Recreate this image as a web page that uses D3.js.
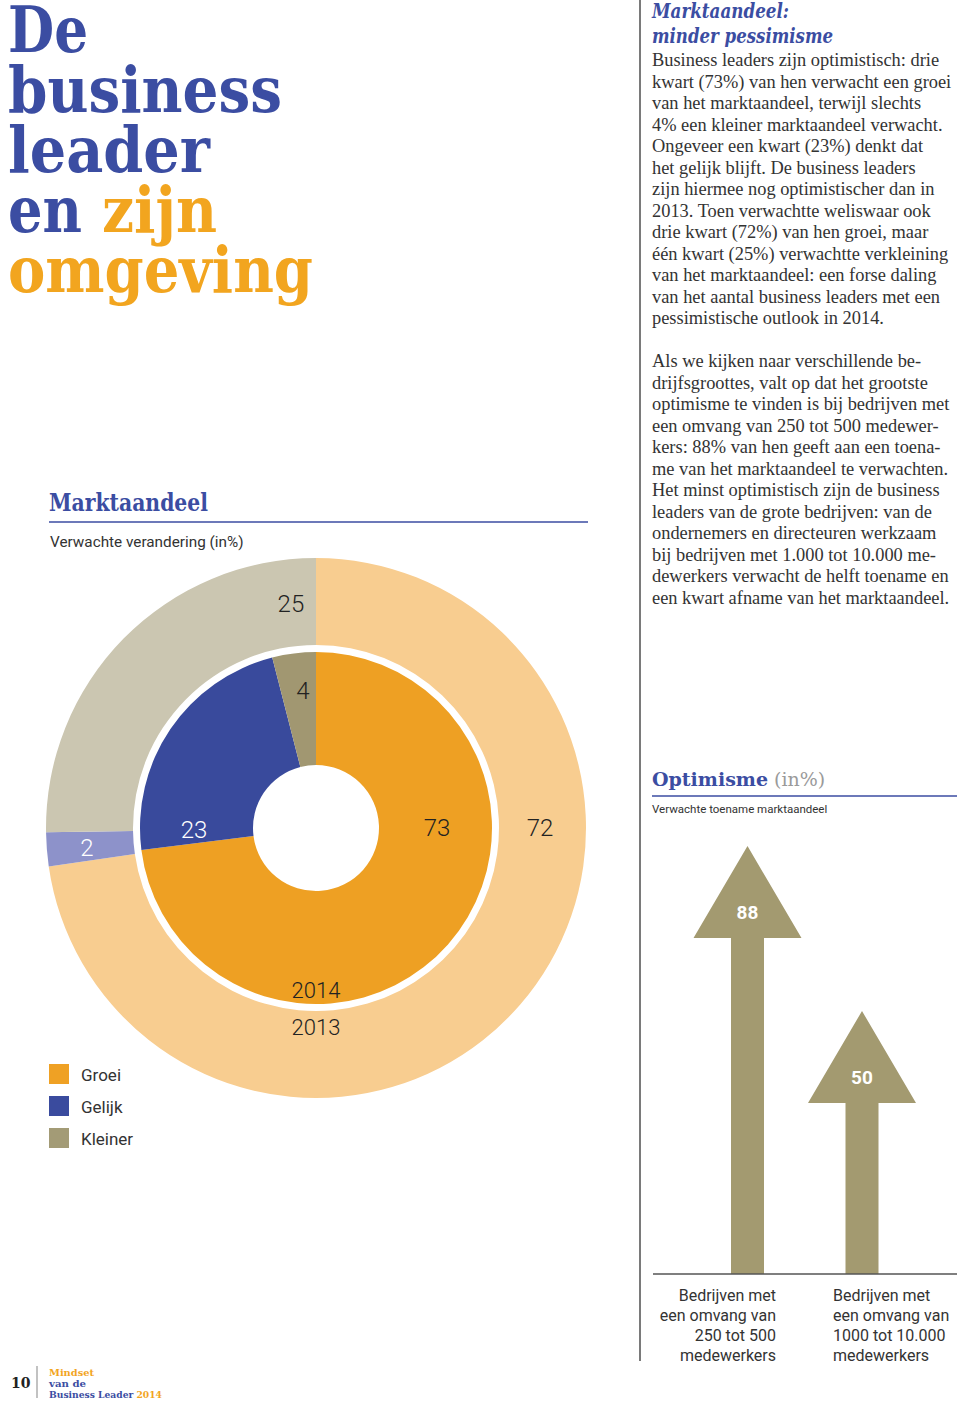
<!DOCTYPE html>
<html><head><meta charset="utf-8">
<script src="https://cdn.jsdelivr.net/npm/d3@7"></script>
<style>
html,body{margin:0;padding:0;background:#fff;}
svg{display:block;}
</style></head>
<body>
<script>
// ---------- DATA ----------
const categories = ["Groei", "Gelijk", "Kleiner"];
const values2014 = [73, 23, 4];
const values2013 = [72, 2, 25];
const yearLabels = ["2014", "2013"];

const optimismeLabels = [
  ["Bedrijven met", "een omvang van", "250 tot 500", "medewerkers"],
  ["Bedrijven met", "een omvang van", "1000 tot  10.000", "medewerkers"]
];
const optimismeValues = [88, 50];

const para1 = [
  "Business leaders zijn optimistisch: drie",
  "kwart (73%) van hen verwacht een groei",
  "van het marktaandeel, terwijl slechts",
  "4% een kleiner marktaandeel verwacht.",
  "Ongeveer een kwart (23%) denkt dat",
  "het gelijk blijft. De business leaders",
  "zijn hiermee nog optimistischer dan in",
  "2013. Toen verwachtte weliswaar ook",
  "drie kwart (72%) van hen groei, maar",
  "één kwart (25%) verwachtte verkleining",
  "van het marktaandeel: een forse daling",
  "van het aantal business leaders met een",
  "pessimistische outlook in 2014."
];
const para2 = [
  "Als we kijken naar verschillende be-",
  "drijfsgroottes, valt op dat het grootste",
  "optimisme te vinden is bij bedrijven met",
  "een omvang van 250 tot 500 medewer-",
  "kers: 88% van hen geeft aan een toena-",
  "me van het marktaandeel te verwachten.",
  "Het minst optimistisch zijn de business",
  "leaders van de grote bedrijven: van de",
  "ondernemers en directeuren werkzaam",
  "bij bedrijven met 1.000 tot 10.000 me-",
  "dewerkers verwacht de helft toename en",
  "een kwart afname van het marktaandeel."
];

// ---------- STYLE ----------
const BLUE = "#3B4DA2", ORANGE = "#F2A51F", TXT = "#333333";
const innerColors = ["#EEA023", "#394A9C", "#A19771"];
const outerColors = ["#F8CD90", "#8D92CA", "#CBC6B1"];
const legendColors = ["#EFA124", "#3A4B9E", "#A39B76"];
const ARROW = "#A39A70";
const SANS = "Roboto, 'Liberation Sans', Arial, sans-serif";
const SERIF = "'Liberation Serif', 'DejaVu Serif', serif";
const SLAB = "'DejaVu Serif', serif";

const svg = d3.select("body").append("svg").attr("width", 960).attr("height", 1402);

// ---------- BIG TITLE ----------
const titleLines = [
  {t: "De", x: 8, y: 52, w: 80, c: BLUE},
  {t: "business", x: 8, y: 112, w: 274, c: BLUE},
  {t: "leader", x: 8, y: 172, w: 202, c: BLUE},
  {t: "en", x: 8, y: 232, w: 74, c: BLUE},
  {t: "zijn", x: 102, y: 232, w: 115, c: ORANGE},
  {t: "omgeving", x: 8, y: 292, w: 305, c: ORANGE}
];
svg.append("g").selectAll("text").data(titleLines).join("text")
  .attr("x", d => d.x).attr("y", d => d.y)
  .attr("font-family", SLAB).attr("font-weight", "bold").attr("font-size", 63)
  .attr("textLength", d => d.w).attr("lengthAdjust", "spacingAndGlyphs")
  .attr("fill", d => d.c).text(d => d.t);

// ---------- RIGHT COLUMN ----------
svg.append("line").attr("x1", 640).attr("x2", 640).attr("y1", 0).attr("y2", 1361)
  .attr("stroke", "#7a7a7a").attr("stroke-width", 2);

svg.append("text").attr("x", 652).attr("y", 18).attr("font-family", SLAB)
  .attr("font-style", "italic").attr("font-weight", "bold").attr("font-size", 20)
  .attr("textLength", 137).attr("lengthAdjust", "spacingAndGlyphs")
  .attr("fill", BLUE).text("Marktaandeel:");
svg.append("text").attr("x", 652).attr("y", 43).attr("font-family", SLAB)
  .attr("font-style", "italic").attr("font-weight", "bold").attr("font-size", 20)
  .attr("textLength", 181).attr("lengthAdjust", "spacingAndGlyphs")
  .attr("fill", BLUE).text("minder pessimisme");

function paragraph(lines, y0) {
  svg.append("g").selectAll("text").data(lines).join("text")
    .attr("x", 652).attr("y", (d, i) => y0 + i * 21.5)
    .attr("font-family", SERIF).attr("font-size", 18.4).attr("fill", TXT)
    .text(d => d);
}
paragraph(para1, 66);
paragraph(para2, 367);

// ---------- MARKTAANDEEL DONUT ----------
svg.append("text").attr("x", 49).attr("y", 511).attr("font-family", SLAB)
  .attr("font-weight", "bold").attr("font-size", 24)
  .attr("textLength", 159).attr("lengthAdjust", "spacingAndGlyphs")
  .attr("fill", BLUE).text("Marktaandeel");
svg.append("line").attr("x1", 49).attr("x2", 588).attr("y1", 522).attr("y2", 522)
  .attr("stroke", BLUE).attr("stroke-width", 1.6);
svg.append("text").attr("x", 50).attr("y", 547).attr("font-family", SANS)
  .attr("font-size", 15.3).attr("fill", TXT).text("Verwachte verandering (in%)");

const cx = 316, cy = 828;
const donut = svg.append("g").attr("transform", `translate(${cx},${cy})`);
const pie = d3.pie().sort(null);
const outerArc = d3.arc().innerRadius(183).outerRadius(270);
const innerArc = d3.arc().innerRadius(63).outerRadius(176);

const outerData = pie(values2013);
const innerData = pie(values2014);

donut.append("g").selectAll("path").data(outerData).join("path")
  .attr("d", outerArc).attr("fill", (d, i) => outerColors[i]);
donut.append("g").selectAll("path").data(innerData).join("path")
  .attr("d", innerArc).attr("fill", (d, i) => innerColors[i]);

// label placement (angle in degrees clockwise from top, radius)
const outerLabelPos = [{a: 90, r: 224, c: "#222"}, {a: 265, r: 230, c: "#fff"}, {a: 353.6, r: 225, c: "#222"}];
const innerLabelPos = [{a: 90, r: 121, c: "#222"}, {a: 269, r: 122, c: "#fff"}, {a: 354.6, r: 138, c: "#222"}];
function polar(a, r) { const t = a * Math.PI / 180; return [r * Math.sin(t), -r * Math.cos(t)]; }

function ringLabels(data, pos) {
  donut.append("g").selectAll("text").data(data).join("text")
    .attr("x", (d, i) => polar(pos[i].a, pos[i].r)[0])
    .attr("y", (d, i) => polar(pos[i].a, pos[i].r)[1])
    .attr("text-anchor", "middle").attr("dominant-baseline", "central")
    .attr("font-family", SANS).attr("font-weight", 300).attr("font-size", 24)
    .attr("fill", (d, i) => pos[i].c).text(d => d.data);
}
ringLabels(outerData, outerLabelPos);
ringLabels(innerData, innerLabelPos);

donut.append("g").selectAll("text").data(yearLabels).join("text")
  .attr("x", 0).attr("y", (d, i) => [162, 199][i])
  .attr("text-anchor", "middle").attr("dominant-baseline", "central")
  .attr("font-family", SANS).attr("font-weight", 300).attr("font-size", 22)
  .attr("fill", "#222").text(d => d);

// legend
const leg = svg.append("g").selectAll("g").data(categories).join("g")
  .attr("transform", (d, i) => `translate(49,${1064 + i * 32})`);
leg.append("rect").attr("width", 20).attr("height", 20).attr("fill", (d, i) => legendColors[i]);
leg.append("text").attr("x", 32).attr("y", 17).attr("font-family", SANS)
  .attr("font-size", 17).attr("fill", TXT).text(d => d);

// ---------- OPTIMISME ----------
const opt = svg.append("text").attr("x", 652).attr("y", 786).attr("font-family", SLAB)
  .attr("font-weight", "bold").attr("font-size", 19);
opt.append("tspan").attr("fill", BLUE).text("Optimisme");
opt.append("tspan").attr("fill", "#9a9a9a").attr("font-weight", "normal").attr("dx", 6).text("(in%)");
svg.append("line").attr("x1", 652).attr("x2", 957).attr("y1", 796).attr("y2", 796)
  .attr("stroke", BLUE).attr("stroke-width", 1.6);
svg.append("text").attr("x", 652).attr("y", 813).attr("font-family", SANS)
  .attr("font-size", 11.5).attr("fill", TXT).text("Verwachte toename marktaandeel");

const baseY = 1274;
const xc = i => [747.5, 862][i];
const yScale = d3.scaleLinear().domain([0, 100]).range([1228, 794]);
const shaftW = 33, headW = 108, headH = 92;

const arrows = svg.append("g").selectAll("g").data(optimismeValues).join("g");
arrows.append("path").attr("fill", ARROW).attr("d", (v, i) => {
  const x = xc(i), top = yScale(v), hb = top + headH;
  return `M${x - shaftW / 2},${baseY}V${hb}H${x - headW / 2}L${x},${top}L${x + headW / 2},${hb}H${x + shaftW / 2}V${baseY}Z`;
});
arrows.append("text").attr("x", (v, i) => xc(i)).attr("y", v => yScale(v) + 73)
  .attr("text-anchor", "middle").attr("font-family", SANS).attr("font-weight", "bold")
  .attr("font-size", 19).attr("fill", "#fff").text(v => v);

svg.append("line").attr("x1", 653).attr("x2", 957).attr("y1", baseY).attr("y2", baseY)
  .attr("stroke", "#555").attr("stroke-width", 1.5);

optimismeLabels.forEach((lines, i) => {
  svg.append("g").selectAll("text").data(lines).join("text")
    .attr("x", i === 0 ? 776 : 833).attr("y", (d, j) => 1301 + j * 20)
    .attr("text-anchor", i === 0 ? "end" : "start")
    .attr("font-family", SANS).attr("font-size", 16).attr("fill", TXT).text(d => d);
});

// ---------- FOOTER ----------
svg.append("text").attr("x", 11).attr("y", 1388).attr("font-family", SLAB)
  .attr("font-weight", "bold").attr("font-size", 14).attr("fill", "#222").text("10");
svg.append("line").attr("x1", 37).attr("x2", 37).attr("y1", 1366).attr("y2", 1398)
  .attr("stroke", "#999").attr("stroke-width", 1.2);
const foot = [
  {t: "Mindset", y: 1376, c: ORANGE, w: 45},
  {t: "van de", y: 1387, c: BLUE, w: 37}
];
svg.append("g").selectAll("text").data(foot).join("text")
  .attr("x", 49).attr("y", d => d.y).attr("font-family", SLAB).attr("font-weight", "bold")
  .attr("font-size", 10).attr("textLength", d => d.w).attr("lengthAdjust", "spacingAndGlyphs")
  .attr("fill", d => d.c).text(d => d.t);
const f3 = svg.append("text").attr("x", 49).attr("y", 1398).attr("font-family", SLAB)
  .attr("font-weight", "bold").attr("font-size", 10)
  .attr("textLength", 113).attr("lengthAdjust", "spacingAndGlyphs");
f3.append("tspan").attr("fill", BLUE).text("Business Leader ");
f3.append("tspan").attr("fill", ORANGE).text("2014");
</script>
</body></html>
